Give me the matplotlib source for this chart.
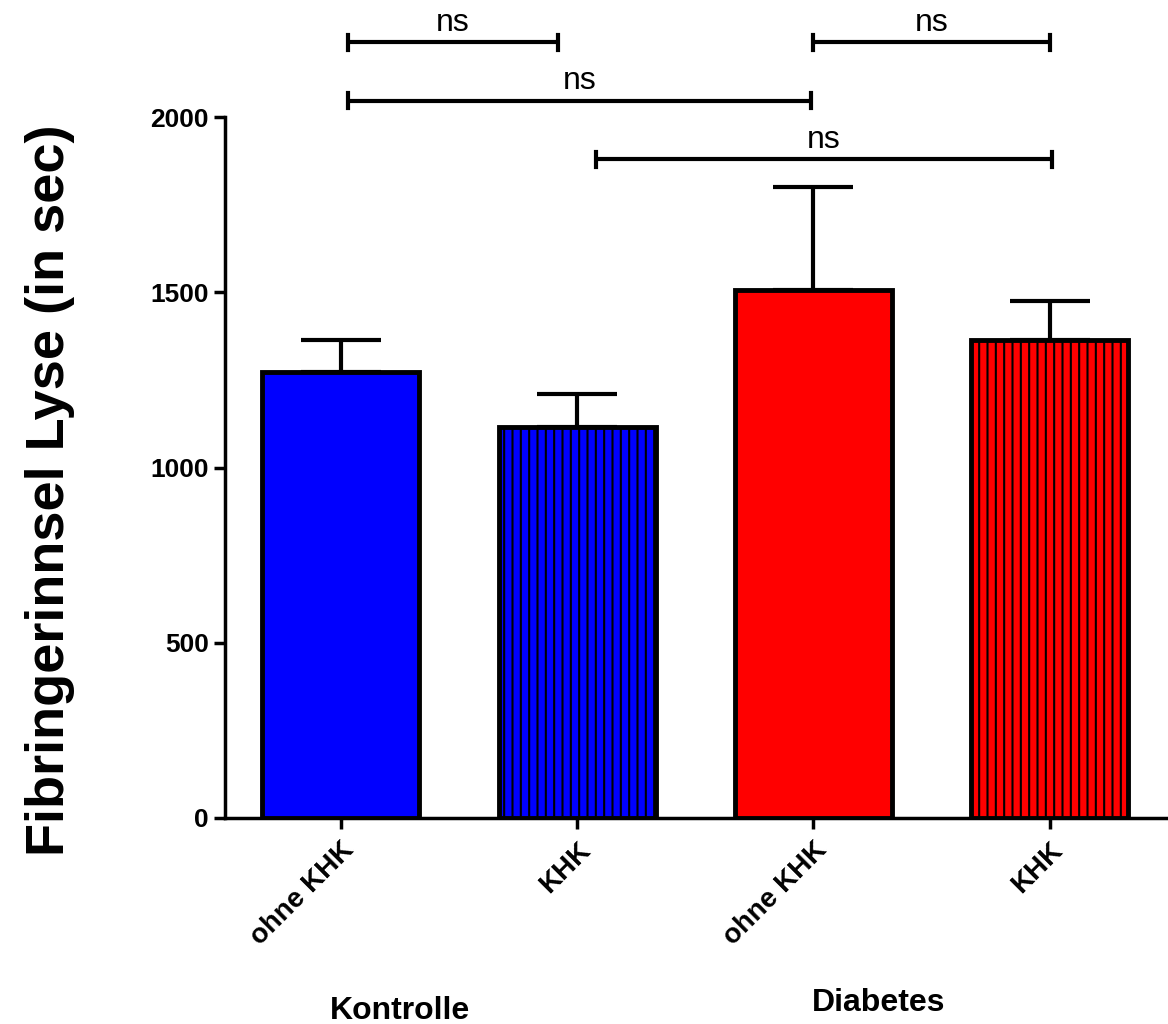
import numpy as np
import matplotlib.pyplot as plt

plt.rcParams['font.family'] = ['Liberation Sans', 'DejaVu Sans']
plt.rcParams['hatch.linewidth'] = 1.5

# data
groups = ['Kontrolle', 'Diabetes']
labels = ['ohne KHK', 'KHK', 'ohne KHK', 'KHK']
means = [1273, 1116, 1507, 1365]
sem = [92, 95, 294, 111]
colors = ['#0000ff', '#0000ff', '#ff0000', '#ff0000']
hatches = ['', '||', '', '||']

# significance brackets: (x start, x end, height, text)
brackets = [
    (0.03, 0.92, 2213, 'ns'),
    (2.0, 3.0, 2213, 'ns'),
    (0.03, 1.99, 2047, 'ns'),
    (1.08, 3.01, 1879, 'ns'),
]

fig = plt.figure(figsize=(11.68, 10.24), dpi=100)
ax = fig.add_axes([0.1926, 0.2012, 0.8074, 0.6845])

x = np.arange(len(means))
bars = ax.bar(x, means, width=0.665, color=colors, edgecolor='black',
              linewidth=3.5, zorder=3)
for b, h in zip(bars, hatches):
    b.set_hatch(h)

ax.errorbar(x, means, yerr=[[0] * len(sem), sem], fmt='none', ecolor='black',
            elinewidth=3, capsize=29, capthick=3, zorder=2)

ax.set_xlim(-0.49, 3.5)
ax.set_ylim(0, 2000)
ax.set_yticks([0, 500, 1000, 1500, 2000])
ax.set_xticks(x)
ax.set_xticklabels(labels, rotation=45, ha='right', rotation_mode='anchor',
                   fontsize=20, fontweight='bold')
for t in ax.get_yticklabels():
    t.set_fontsize(19)
    t.set_fontweight('bold')

ax.spines['top'].set_visible(False)
ax.spines['right'].set_visible(False)
ax.spines['left'].set_linewidth(2.5)
ax.spines['bottom'].set_linewidth(2.5)
ax.tick_params(axis='both', width=2.5, length=8, direction='out')
ax.tick_params(axis='x', pad=6)

for x0, x1, h, txt in brackets:
    ax.plot([x0, x1], [h, h], color='black', lw=3, clip_on=False,
            solid_capstyle='butt')
    for xe in (x0, x1):
        ax.plot([xe, xe], [h - 22, h + 22], color='black', lw=3, clip_on=False)
    ax.text((x0 + x1) / 2, h + 12, txt, ha='center', va='bottom',
            fontsize=23, clip_on=False)

fig.text(0.043, 0.521, 'Fibringerinnsel Lyse (in sec)', rotation=90,
         ha='center', va='center', fontsize=39, fontweight='bold')
fig.text(0.3425, 0.0127, groups[0], ha='center', va='center',
         fontsize=23, fontweight='bold')
fig.text(0.752, 0.0205, groups[1], ha='center', va='center',
         fontsize=23, fontweight='bold')

fig.savefig('out.png', dpi=100, facecolor='white')
